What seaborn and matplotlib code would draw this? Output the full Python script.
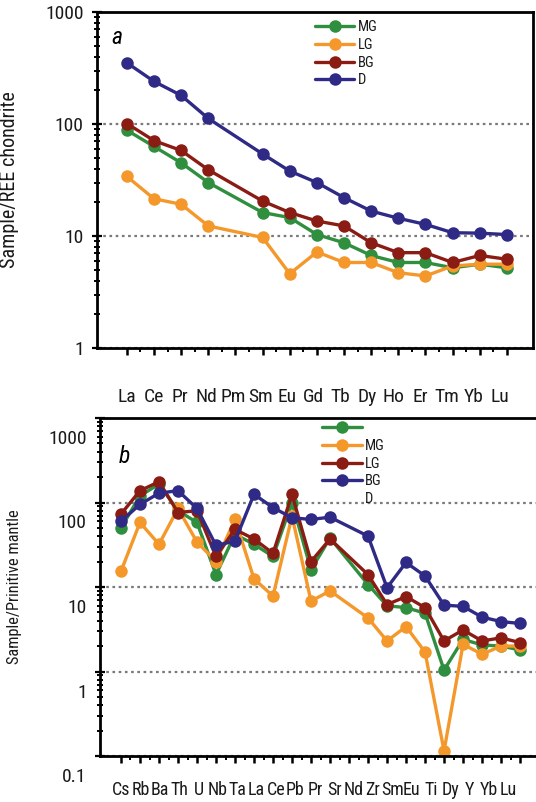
import numpy as np
import pandas as pd
import matplotlib
matplotlib.use("Agg")
import matplotlib.pyplot as plt
import seaborn as sns
from matplotlib import font_manager as fm
from matplotlib.lines import Line2D
from matplotlib.ticker import FixedLocator, LogLocator, NullFormatter
from matplotlib.transforms import ScaledTranslation

nan = np.nan

# ---------------- data ----------------
series = ["MG", "LG", "BG", "D"]
colors = ["#2f8f3f", "#f4982c", "#8a1c14", "#2f2a85"]

ree = ["La", "Ce", "Pr", "Nd", "Pm", "Sm", "Eu", "Gd", "Tb", "Dy", "Ho", "Er", "Tm", "Yb", "Lu"]
ree_MG = [88, 63, 45, 30, nan, 16.2, 14.6, 10.3, 8.7, 6.7, 5.8, 5.8, 5.2, 5.6, 5.2]
ree_LG = [34, 21.5, 19.2, 12.3, nan, 9.7, 4.6, 7.2, 5.8, 5.8, 4.7, 4.4, 5.4, 5.6, 5.6]
ree_BG = [101, 71, 58, 39, nan, 20.5, 16.2, 13.6, 12.3, 8.7, 7.1, 7.1, 5.8, 6.7, 6.2]
ree_D = [352, 240, 180, 112, nan, 54, 38, 30, 22, 16.7, 14.4, 12.7, 10.7, 10.6, 10.3]

te = ["Cs", "Rb", "Ba", "Th", "U", "Nb", "Ta", "La", "Ce", "Pb", "Pr", "Sr", "",
      "Nd", "Zr", "Sm", "Eu", "Ti", "Dy", "Y", "Yb", "Lu"]
te_MG = [50, 120, 165, 80, 58, 14, 42, 32, 23, 100, 16, 38, nan,
         10.7, 6.0, 5.7, 4.9, 1.04, 2.4, 2.06, 2.0, 1.8]
te_LG = [15.4, 58, 32, 85, 34, 20, 63, 12.5, 7.8, 69, 6.8, 9.0, nan,
         4.3, 2.3, 3.4, 1.7, 0.115, 2.1, 1.6, 2.0, 2.0]
te_BG = [73, 138, 176, 76, 80, 23, 48, 37, 25, 125, 20, 37, nan,
         14, 6.2, 7.7, 5.7, 2.3, 3.1, 2.3, 2.5, 2.2]
te_D = [60, 95, 129, 138, 85, 31, 35, 125, 87, 66, 63, 67, nan,
        40, 9.8, 19.5, 13.5, 6.1, 5.9, 4.4, 3.9, 3.7]

ree_ylabel = "Sample/REE chondrite"
te_ylabel = "Sample/Prinitive mantle"


def long_df(cats, values_by_series):
    rows = []
    for name, vals in zip(series, values_by_series):
        for i, (c, v) in enumerate(zip(cats, vals)):
            rows.append({"pos": i, "element": c, "series": name, "value": v})
    return pd.DataFrame(rows)


df_ree = long_df(ree, [ree_MG, ree_LG, ree_BG, ree_D])
df_te = long_df(te, [te_MG, te_LG, te_BG, te_D])

# ---------------- style ----------------
sns.set_theme(style="white")

# pick a narrow / condensed sans font if one is installed
entries = fm.fontManager.ttflist
names = {f.name for f in entries}
family, stretch, scale = None, "normal", 1.0
for p in ["Liberation Sans Narrow", "Roboto Condensed", "Open Sans Condensed",
          "Noto Sans Condensed", "DejaVu Sans Condensed", "Arial Narrow"]:
    if p in names:
        family, stretch = p, "condensed"
        break
if family is None:
    cond = [f for f in entries
            if str(f.stretch) in ("condensed", "semi-condensed", "extra-condensed",
                                  "ultra-condensed") and f.style == "normal"]
    for pref in ["Roboto", "Liberation Sans", "Noto Sans", "Open Sans", "DejaVu Sans", "Lato", "Inter"]:
        hit = [f for f in cond if f.name == pref]
        if hit:
            family, stretch = pref, "condensed"
            break
    if family is None and cond:
        family, stretch = cond[0].name, "condensed"
if family is None:
    family, scale = "Liberation Sans", 0.85

plt.rcParams["font.family"] = [family, "DejaVu Sans"]
plt.rcParams["font.stretch"] = stretch
plt.rcParams["axes.linewidth"] = 2.0

palette = dict(zip(series, colors))
MS = 9.0
LW = 2.4
TXT = "#1a1a1a"
FS_TICK = 14 * scale
FS_XB = 13 * scale
FS_LEG = 10.5 * scale

fig = plt.figure(figsize=(5.36, 8.02), dpi=100)
W, H = 536, 802
ax1 = fig.add_axes([97 / W, 1 - 348 / H, 436 / W, 336 / H])
ax2 = fig.add_axes([100 / W, 1 - 756 / H, 440 / W, 338 / H])


def draw(ax, df):
    sns.lineplot(data=df, x="pos", y="value", hue="series", hue_order=series,
                 palette=palette, marker="o", markersize=MS, markeredgewidth=0,
                 linewidth=LW, legend=False, ax=ax, sort=False, estimator=None)


draw(ax1, df_ree)
draw(ax2, df_te)

for ax in (ax1, ax2):
    ax.set_yscale("log")
    ax.set_xlabel("")
    ax.set_ylabel("")
    ax.set_facecolor("white")
    for s in ax.spines.values():
        s.set_color("black")
        s.set_linewidth(2.0)
    ax.yaxis.grid(True, which="major", linestyle=(0, (1.2, 1.6)), color="#7a7a7a", linewidth=1.6)
    ax.xaxis.grid(False)
    ax.yaxis.set_minor_locator(LogLocator(base=10, subs=np.arange(2, 10)))
    ax.yaxis.set_minor_formatter(NullFormatter())
    ax.tick_params(axis="y", which="major", direction="inout", length=7, width=1.6,
                   labelsize=FS_TICK, colors="black", labelcolor=TXT, left=True, pad=6)
    ax.tick_params(axis="y", which="minor", direction="inout", length=4, width=1.4,
                   colors="black", left=True)
    ax.tick_params(axis="x", which="major", direction="out", length=5, width=1.8,
                   colors="black", bottom=True, labelbottom=False)
    ax.tick_params(axis="x", which="minor", direction="out", length=3, width=1.4,
                   colors="black", bottom=True)

# ---- panel a ----
ax1.set_xlim(-1.1, 14.96)
ax1.set_ylim(1, 1000)
ax1.set_xticks(range(len(ree)))
ax1.xaxis.set_minor_locator(FixedLocator(np.arange(len(ree) - 1) + 0.5))
ax1.set_yticks([1, 10, 100, 1000], labels=["1", "10", "100", "1000"])
ax1.set_ylabel(ree_ylabel, fontsize=14.5 * scale, color=TXT)
ax1.yaxis.set_label_coords(-0.178, 0.5)
sec1 = ax1.secondary_xaxis("bottom")
sec1.set_xticks(np.linspace(0, 13.75, len(ree)), labels=ree)
sec1.tick_params(length=0, pad=29, labelsize=FS_TICK, labelcolor=TXT)
sec1.spines["bottom"].set_visible(False)
ax1.text(0.033, 0.925, "a", transform=ax1.transAxes, fontsize=17, style="italic",
         color="black", ha="left", va="center")

# ---- panel b ----
ax2.set_xlim(-1.105, 22.05)
ax2.set_ylim(0.1, 1000)
ax2.spines["right"].set_visible(False)
ax2.set_xticks(range(len(te)))
ax2.xaxis.set_minor_locator(FixedLocator(np.arange(len(te) - 1) + 0.5))
ax2.set_yticks([0.1, 1, 10, 100, 1000], labels=["0.1", "1", "10", "100", "1000"])
off = ScaledTranslation(0, -19 / 100, fig.dpi_scale_trans)
for lab in ax2.get_yticklabels():
    lab.set_transform(lab.get_transform() + off)
ax2.set_ylabel(te_ylabel, fontsize=11.8 * scale, color=TXT)
ax2.yaxis.set_label_coords(-0.178, 0.5)
te_labels = [t for t in te if t]
sec2 = ax2.secondary_xaxis("bottom")
sec2.set_xticks(np.linspace(0, 20.4, len(te_labels)), labels=te_labels)
sec2.tick_params(length=0, pad=18, labelsize=FS_XB, labelcolor=TXT)
sec2.spines["bottom"].set_visible(False)
ax2.text(0.043, 0.885, "b", transform=ax2.transAxes, fontsize=17, style="italic",
         color="black", ha="left", va="center")

# ---- legends ----
handles = [Line2D([], [], color=c, marker="o", markersize=MS, markeredgewidth=0, linewidth=LW)
           for c in colors]
leg_kw = dict(frameon=False, fontsize=FS_LEG, handlelength=2.7, handletextpad=0.25,
              labelspacing=0.25, borderpad=0, borderaxespad=0, numpoints=1,
              labelcolor=TXT, loc="upper left")
ax1.legend(handles, series, bbox_to_anchor=(0.50, 0.975), **leg_kw)
blank = Line2D([], [], color="none", marker=None, linewidth=0)
ax2.legend(handles + [blank], [""] + series, bbox_to_anchor=(0.505, 0.99), **leg_kw)

fig.savefig("out.png", dpi=100, facecolor="white")
